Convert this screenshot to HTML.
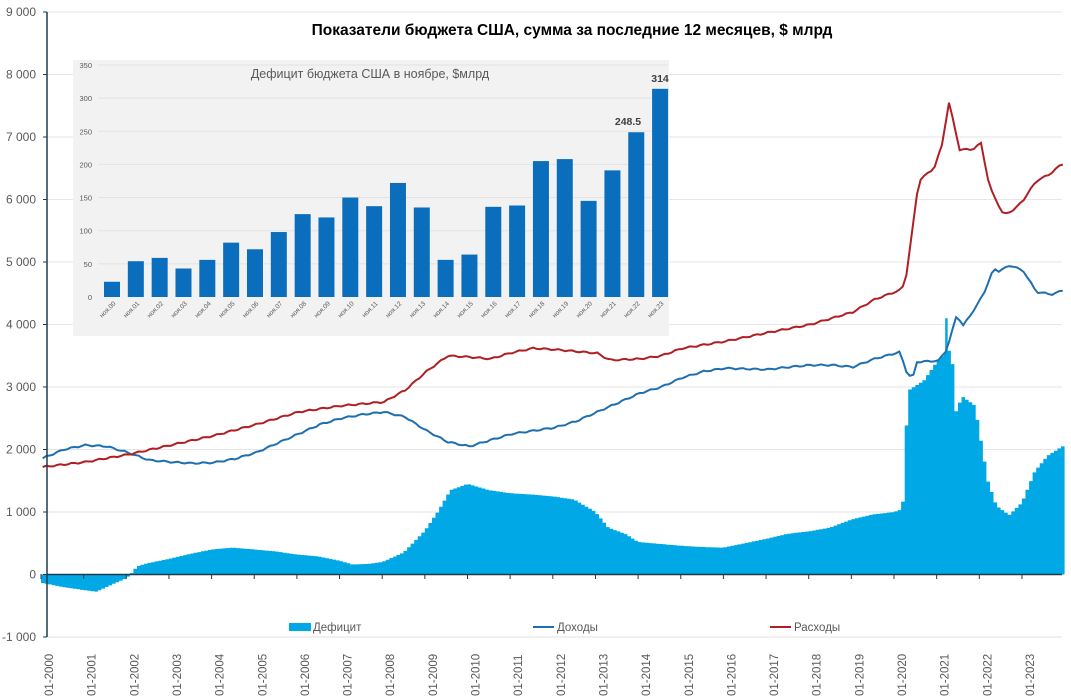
<!DOCTYPE html>
<html><head><meta charset="utf-8"><style>
html,body{margin:0;padding:0;background:#fff;}
svg{display:block;font-family:"Liberation Sans","DejaVu Sans",sans-serif;}
</style></head><body>
<svg id="c" width="1071" height="697" viewBox="0 0 1071 697" xmlns="http://www.w3.org/2000/svg">
<rect width="1071" height="697" fill="#fff"/>
<g id="grid"></g>
<g id="bars"></g>
<polyline id="rev" fill="none" stroke="#1f6fae" stroke-width="2"/>
<polyline id="out" fill="none" stroke="#b01f24" stroke-width="2"/>
<line x1="47" y1="12" x2="47" y2="637" stroke="#1f3c4c" stroke-width="1.5"/>
<line x1="47" y1="574.5" x2="1062" y2="574.5" stroke="#1f3c4c" stroke-width="1.5"/>
<g id="ticks"></g>
<g id="ylab" font-size="12" fill="#595959" text-anchor="end"></g>
<g id="xlab" font-size="11.5" fill="#595959"></g>
<text x="572" y="35" font-size="15.5" font-weight="bold" text-anchor="middle" fill="#000">Показатели бюджета США, сумма за последние 12 месяцев, $ млрд</text>
<!-- inset -->
<rect x="73" y="60" width="596" height="276" fill="#f2f2f2"/>
<g id="inset"></g>
<text x="370" y="78" font-size="12.5" fill="#595959" text-anchor="middle">Дефицит бюджета США в ноябре, $млрд</text>
<!-- legend -->
<rect x="289" y="623" width="22" height="8" fill="#00a9e6"/>
<text x="313" y="631" font-size="11.5" fill="#595959">Дефицит</text>
<line x1="533" y1="627" x2="554" y2="627" stroke="#1f6fae" stroke-width="2"/>
<text x="557" y="631" font-size="11.5" fill="#595959">Доходы</text>
<line x1="770" y1="627" x2="791" y2="627" stroke="#b01f24" stroke-width="2"/>
<text x="794" y="631" font-size="11.5" fill="#595959">Расходы</text>
</svg>
<script>
var NS="http://www.w3.org/2000/svg";
function el(p,t,a,txt){var e=document.createElementNS(NS,t);for(var k in a)e.setAttribute(k,a[k]);if(txt!=null)e.textContent=txt;document.getElementById(p).appendChild(e);return e;}
function X(t){return 41+42.65*(t-2000);}
function Y(v){return 574.5-v*0.0625;}
function interp(pts,t){for(var i=0;i<pts.length-1;i++){if(t<=pts[i+1][0]){var a=pts[i],b=pts[i+1];var f=(t-a[0])/(b[0]-a[0]);return a[1]+f*(b[1]-a[1]);}}return pts[pts.length-1][1];}
for(var v=-1000;v<=9000;v+=1000){
 if(v!==0&&v!==-1000)el("grid","line",{x1:47,x2:1062,y1:Y(v),y2:Y(v),stroke:"#e6e6e6","stroke-width":1});
 if(v===-1000)el("grid","line",{x1:47,x2:1062,y1:Y(v),y2:Y(v),stroke:"#e0e0e0","stroke-width":1});
 el("ylab","text",{x:36,y:Y(v)+4},(v<0?"-":"")+(Math.abs(v)>=1000?Math.floor(Math.abs(v)/1000)+" 000":"0"));
 el("ticks","line",{x1:43,x2:47,y1:Y(v),y2:Y(v),stroke:"#1f3c4c"});
}
for(var y=2000;y<=2023;y++){
 var x=X(y);
 el("ticks","line",{x1:x,x2:x,y1:574,y2:579,stroke:"#1f3c4c"});
 el("xlab","text",{transform:"translate("+(x+12)+",696) rotate(-90)"},"01-"+y);
}
var def=[[2000,-130],[2000.5,-200],[2001,-250],[2001.3,-275],[2001.7,-150],[2002,-60],[2002.15,40],[2002.25,130],[2002.5,180],[2003,250],[2003.5,330],[2004,400],[2004.5,430],[2005,400],[2005.5,370],[2006,320],[2006.5,290],[2007,220],[2007.3,160],[2007.7,170],[2008,200],[2008.5,350],[2009,700],[2009.3,1000],[2009.6,1350],[2010,1450],[2010.5,1350],[2011,1300],[2011.5,1280],[2012,1250],[2012.5,1200],[2013,1000],[2013.3,750],[2013.7,650],[2014,520],[2014.5,490],[2015,460],[2015.5,440],[2016,430],[2016.5,500],[2017,570],[2017.5,650],[2018,690],[2018.5,750],[2019,880],[2019.5,960],[2020,1000],[2020.2,1050],[2020.26,2100],[2020.35,2950],[2020.7,3100],[2021,3400],[2021.2,3550],[2021.35,3600],[2021.45,2600],[2021.6,2850],[2021.9,2700],[2022,2300],[2022.2,1500],[2022.4,1100],[2022.7,950],[2023,1150],[2023.3,1650],[2023.6,1900],[2023.95,2050]];
var d="M"+X(2000)+","+Y(0);
for(var m=0;m<288;m++){var t=2000+m/12;var v=interp(def,t+0.04);d+=" L"+X(t).toFixed(1)+","+Y(v).toFixed(1)+" L"+X(t+1/12).toFixed(1)+","+Y(v).toFixed(1);}
d+=" L"+X(2024)+","+Y(0)+" Z";
el("bars","path",{d:d,fill:"#00a9e6"});
el("bars","rect",{x:X(2021.2),y:Y(4100),width:2.5,height:Y(3500)-Y(4100),fill:"#00a9e6"});
var rev=[[2000,1860],[2000.5,2000],[2001,2070],[2001.5,2050],[2002,1950],[2002.5,1830],[2003,1800],[2003.5,1780],[2004,1790],[2004.5,1850],[2005,1950],[2005.5,2100],[2006,2250],[2006.5,2400],[2007,2500],[2007.5,2560],[2008,2600],[2008.5,2520],[2009,2300],[2009.5,2120],[2010,2050],[2010.5,2150],[2011,2250],[2011.5,2300],[2012,2350],[2012.5,2450],[2013,2600],[2013.5,2750],[2014,2900],[2014.5,3000],[2015,3150],[2015.5,3250],[2016,3300],[2017,3280],[2017.5,3320],[2018,3350],[2018.5,3350],[2019,3320],[2019.5,3450],[2020.1,3560],[2020.25,3250],[2020.4,3120],[2020.47,3400],[2021,3420],[2021.2,3600],[2021.45,4200],[2021.55,3950],[2021.9,4300],[2022.1,4550],[2022.3,4900],[2022.4,4850],[2022.7,4950],[2023,4850],[2023.3,4520],[2023.7,4480],[2023.9,4550]];
var out=[[2000,1720],[2001,1800],[2002,1920],[2003,2070],[2004,2220],[2005,2400],[2006,2600],[2007,2700],[2008,2760],[2008.5,2950],[2009,3250],[2009.5,3500],[2010,3480],[2010.5,3450],[2011,3550],[2011.5,3620],[2012,3600],[2012.5,3570],[2013,3540],[2013.3,3430],[2014,3450],[2014.5,3500],[2015,3620],[2016,3730],[2017,3870],[2018,4000],[2019,4200],[2019.5,4400],[2020.1,4550],[2020.22,4650],[2020.35,5300],[2020.54,6300],[2020.9,6500],[2021.1,6900],[2021.24,7580],[2021.35,7250],[2021.5,6800],[2021.8,6800],[2022,6900],[2022.2,6200],[2022.53,5750],[2022.8,5850],[2023,6000],[2023.3,6300],[2023.6,6400],[2023.9,6570]];
function pl(id,arr){var s=[];for(var m=0;m<=287;m++){var t=2000+m/12;var v=interp(arr,t);v+=Math.sin(m*1.7)*12;s.push(X(t+0.04).toFixed(1)+","+Y(v).toFixed(1));}document.getElementById(id).setAttribute("points",s.join(" "));}
pl("rev",rev);pl("out",out);
// inset
var IY=function(v){return 297-v*0.663;};
for(var v=0;v<=350;v+=50){
 if(v>0)el("inset","line",{x1:98,x2:668,y1:IY(v),y2:IY(v),stroke:"#e3e3e3"});
 el("inset","text",{x:92,y:IY(v)+3,"font-size":"7.5","fill":"#595959","text-anchor":"end"},v);
}
var vals=[23,54,59,43,56,82,72,98,125,120,150,137,172,135,56,64,136,138,205,208,145,191,248.5,314];
for(var i=0;i<24;i++){
 var cx=112+i*23.83;
 el("inset","rect",{x:cx-8,y:IY(vals[i]),width:16,height:297-IY(vals[i]),fill:"#0a6ebd"});
 var lb="ноя."+(i<10?"0":"")+i;
 el("inset","text",{transform:"translate("+(cx+4)+",304) rotate(-45)","font-size":"6.5","fill":"#595959","text-anchor":"end"},lb);
}
el("inset","text",{x:628,y:IY(248.5)-7,"font-size":"10.5","font-weight":"bold","fill":"#404040","text-anchor":"middle"},"248.5");
el("inset","text",{x:660,y:IY(314)-7,"font-size":"10.5","font-weight":"bold","fill":"#404040","text-anchor":"middle"},"314");
</script>
</body></html>
